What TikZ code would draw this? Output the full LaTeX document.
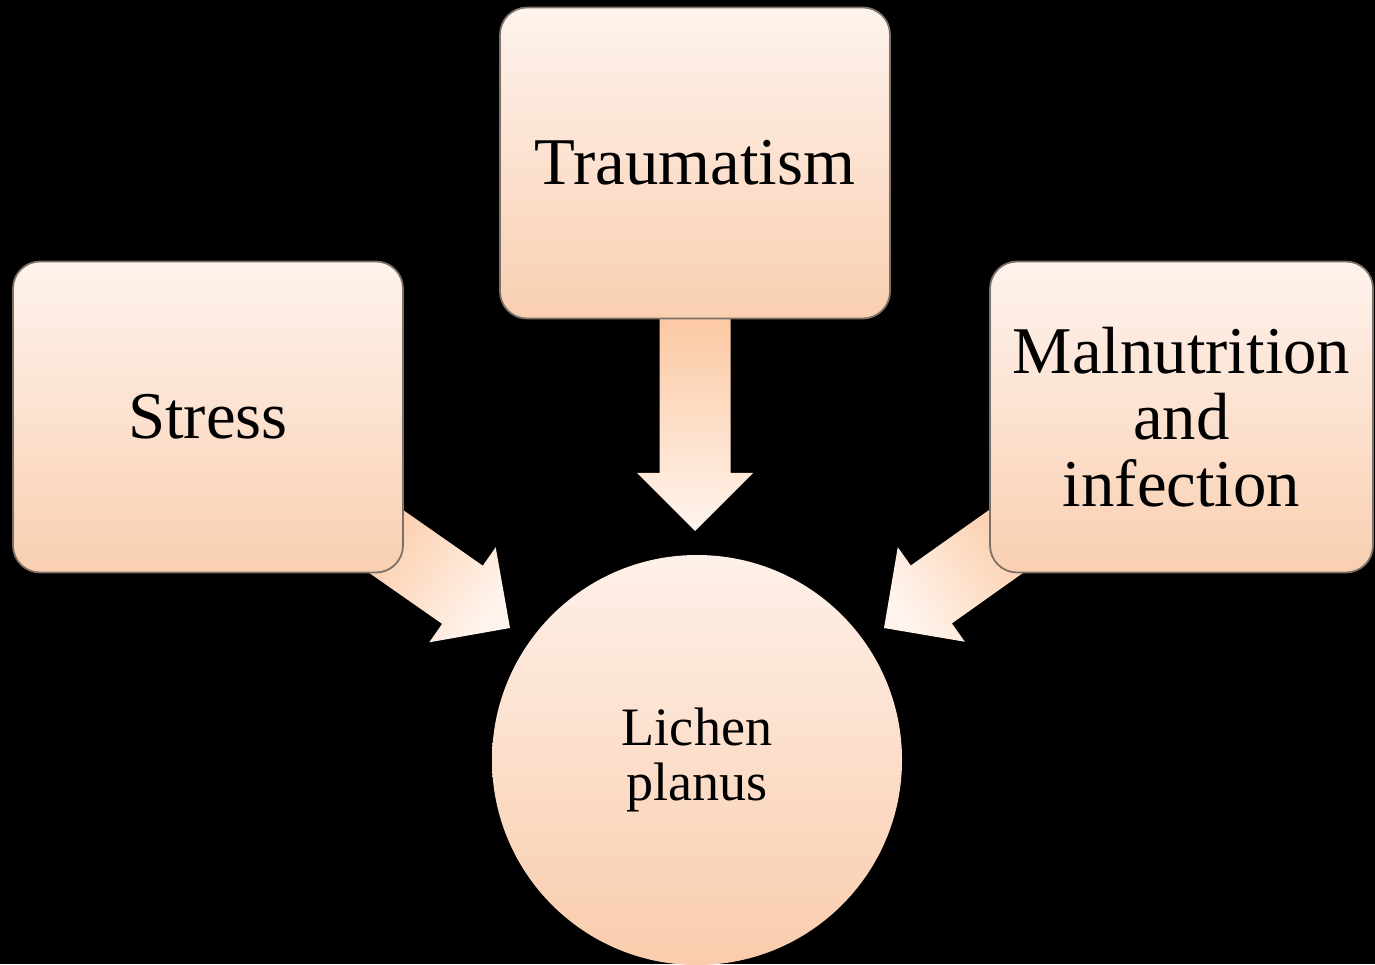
\documentclass[tikz,border=0pt]{standalone}
\usepackage{fontspec}
\setmainfont{Liberation Serif}
\usetikzlibrary{positioning,calc}
\definecolor{boxtop}{RGB}{254,243,237}
\definecolor{boxbot}{RGB}{249,207,177}
\definecolor{boxedge}{RGB}{125,112,102}
\definecolor{arrowdark}{RGB}{251,197,157}
\definecolor{arrowlight}{RGB}{255,244,237}
\definecolor{circtop}{RGB}{254,240,232}
\definecolor{circbot}{RGB}{249,204,172}
\pgfdeclarelayer{back}
\pgfdeclarelayer{links}
\pgfsetlayers{back,links,main}
\tikzset{
  causebox/.style={draw=boxedge, line width=0.5pt, rounded corners=0.27cm, top color=boxtop, bottom color=boxbot, minimum width=3.9cm, minimum height=3.11cm, inner sep=0pt, align=center, font=\fontsize{19}{19}\selectfont},
  resultnode/.style={circle, top color=circtop, bottom color=circbot, minimum size=4.1cm, inner sep=0pt, align=center, font=\fontsize{15.4}{15.6}\selectfont},
  bigarrow/.style={top color=arrowdark, bottom color=arrowlight}
}
% block arrow: from node, tip, length, shading angle
\newcommand{\causearrow}[4]{%
  \coordinate (tl) at ($(#2)!#3!(#1)$);
  \coordinate (hb) at ($(#2)!0.58cm!(#1)$);
  \shade[bigarrow, shading angle=#4]
    ($(tl)!0.355cm!90:(#2)$) -- ($(hb)!0.355cm!90:(#2)$) -- ($(hb)!0.58cm!90:(#2)$) -- (#2)
    -- ($(hb)!0.58cm!-90:(#2)$) -- ($(hb)!0.355cm!-90:(#2)$) -- ($(tl)!0.355cm!-90:(#2)$) -- cycle;
}
\begin{document}
\begin{tikzpicture}
  \begin{pgfonlayer}{back}
    \fill[black] (0,0) rectangle (13.75,9.64);
  \end{pgfonlayer}
  \useasboundingbox (0,0) rectangle (13.75,9.64);

  \node[causebox] (trauma) at (6.95,8.01) {Traumatism};
  \node[causebox] (stress) at (2.08,5.47) {Stress};
  \node[causebox, minimum width=3.83cm] (malnut) at (11.815,5.47) {Malnutrition\\and\\infection};
  \node[resultnode] (lichen) at (6.97,2.04) {Lichen\\planus};

  \coordinate (tipT) at (6.95,4.33);
  \coordinate (tipS) at (5.10,3.36);
  \coordinate (tipM) at (8.84,3.36);

  \begin{pgfonlayer}{links}
    \causearrow{trauma.center}{tipT}{2.3cm}{0}
    \causearrow{stress.center}{tipS}{1.9cm}{55}
    \causearrow{malnut.center}{tipM}{1.9cm}{-55}
  \end{pgfonlayer}
\end{tikzpicture}
\end{document}
